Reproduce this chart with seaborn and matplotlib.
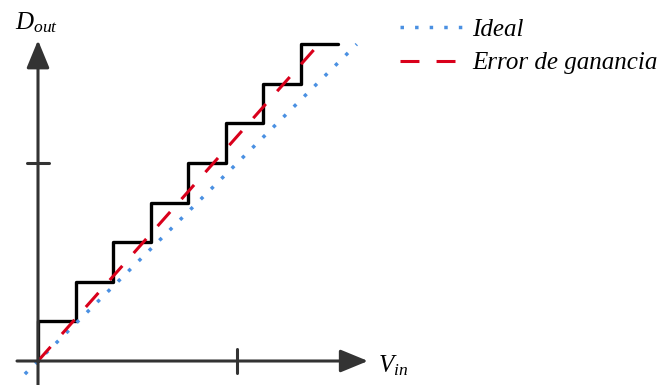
import numpy as np
import pandas as pd
import matplotlib
matplotlib.use("Agg")
import matplotlib.pyplot as plt
import seaborn as sns

sns.set_theme(style="white")
plt.rcParams['font.family'] = ['Liberation Serif', 'DejaVu Serif']
plt.rcParams['mathtext.fontset'] = 'custom'
plt.rcParams['mathtext.it'] = 'Liberation Serif:italic'
plt.rcParams['mathtext.rm'] = 'Liberation Serif'
plt.rcParams['text.color'] = 'black'

# staircase of output codes (x in step units, y in code units)
stair_x = [0, 0, 1, 2, 3, 4, 5, 6, 7, 8]
stair_y = [0, 1, 2, 3, 4, 5, 6, 7, 8, 8]

# ideal transfer line
ideal_x = [-0.35, 8.5]
ideal_y = [-0.33, 8.0]

# gain error line
gain_x = [0, 7.47]
gain_y = [0, 7.98]

# axes extents and ticks
x_axis = [-0.56, 8.8]
y_axis = [-0.6, 8.1]
x_tick = 5.31
y_tick = 5.0

labels = ['Ideal', 'Error de ganancia']

sx, sy = 37.5, 39.6   # px per unit
fig = plt.figure(figsize=(6.62, 3.85), dpi=100)
ax = fig.add_axes([0, 0, 1, 1])
ax.set_xlim(-38 / sx, 624 / sx)
ax.set_ylim(-24 / sy, 361 / sy)
ax.axis('off')

axcol = '#333333'
# axes with arrow heads
for start, tip in [((x_axis[0], 0), (x_axis[1], 0)), ((0, y_axis[0]), (0, y_axis[1]))]:
    ax.annotate('', xy=tip, xytext=start,
                arrowprops=dict(arrowstyle='-|>,head_length=1.7,head_width=0.7',
                                mutation_scale=10, lw=2.2, color=axcol,
                                shrinkA=0, shrinkB=0))
ax.plot([x_tick, x_tick], [-0.3, 0.3], color=axcol, lw=2.2)
ax.plot([-0.3, 0.3], [y_tick, y_tick], color=axcol, lw=2.2)

sns.lineplot(x=stair_x, y=stair_y, sort=False, estimator=None, drawstyle='steps-post',
             color='black', lw=2.4, ax=ax)
sns.lineplot(x=ideal_x, y=ideal_y, sort=False, estimator=None, color='#4a90e2',
             lw=2.5, linestyle=(0, (1, 3.2)), ax=ax, label=labels[0])
sns.lineplot(x=gain_x, y=gain_y, sort=False, estimator=None, color='#d9001b',
             lw=2.2, linestyle=(0, (6.2, 5.6)), ax=ax, label=labels[1])

leg = ax.legend(loc='upper left', bbox_to_anchor=(400 / 662, 1 - 18 / 385),
                frameon=False, fontsize=18, handlelength=2.5, handletextpad=0.4,
                labelspacing=0.45, borderpad=0, borderaxespad=0)
for t in leg.get_texts():
    t.set_fontstyle('italic')
    t.set_color('black')

ax.text(-23 / sx, (361 - 29) / sy, r'$D_{out}$', fontsize=18, color='black')
ax.text((378 - 38) / sx, (361 - 372) / sy, r'$V_{in}$', fontsize=18, color='black')

fig.savefig('out.png', dpi=100)
